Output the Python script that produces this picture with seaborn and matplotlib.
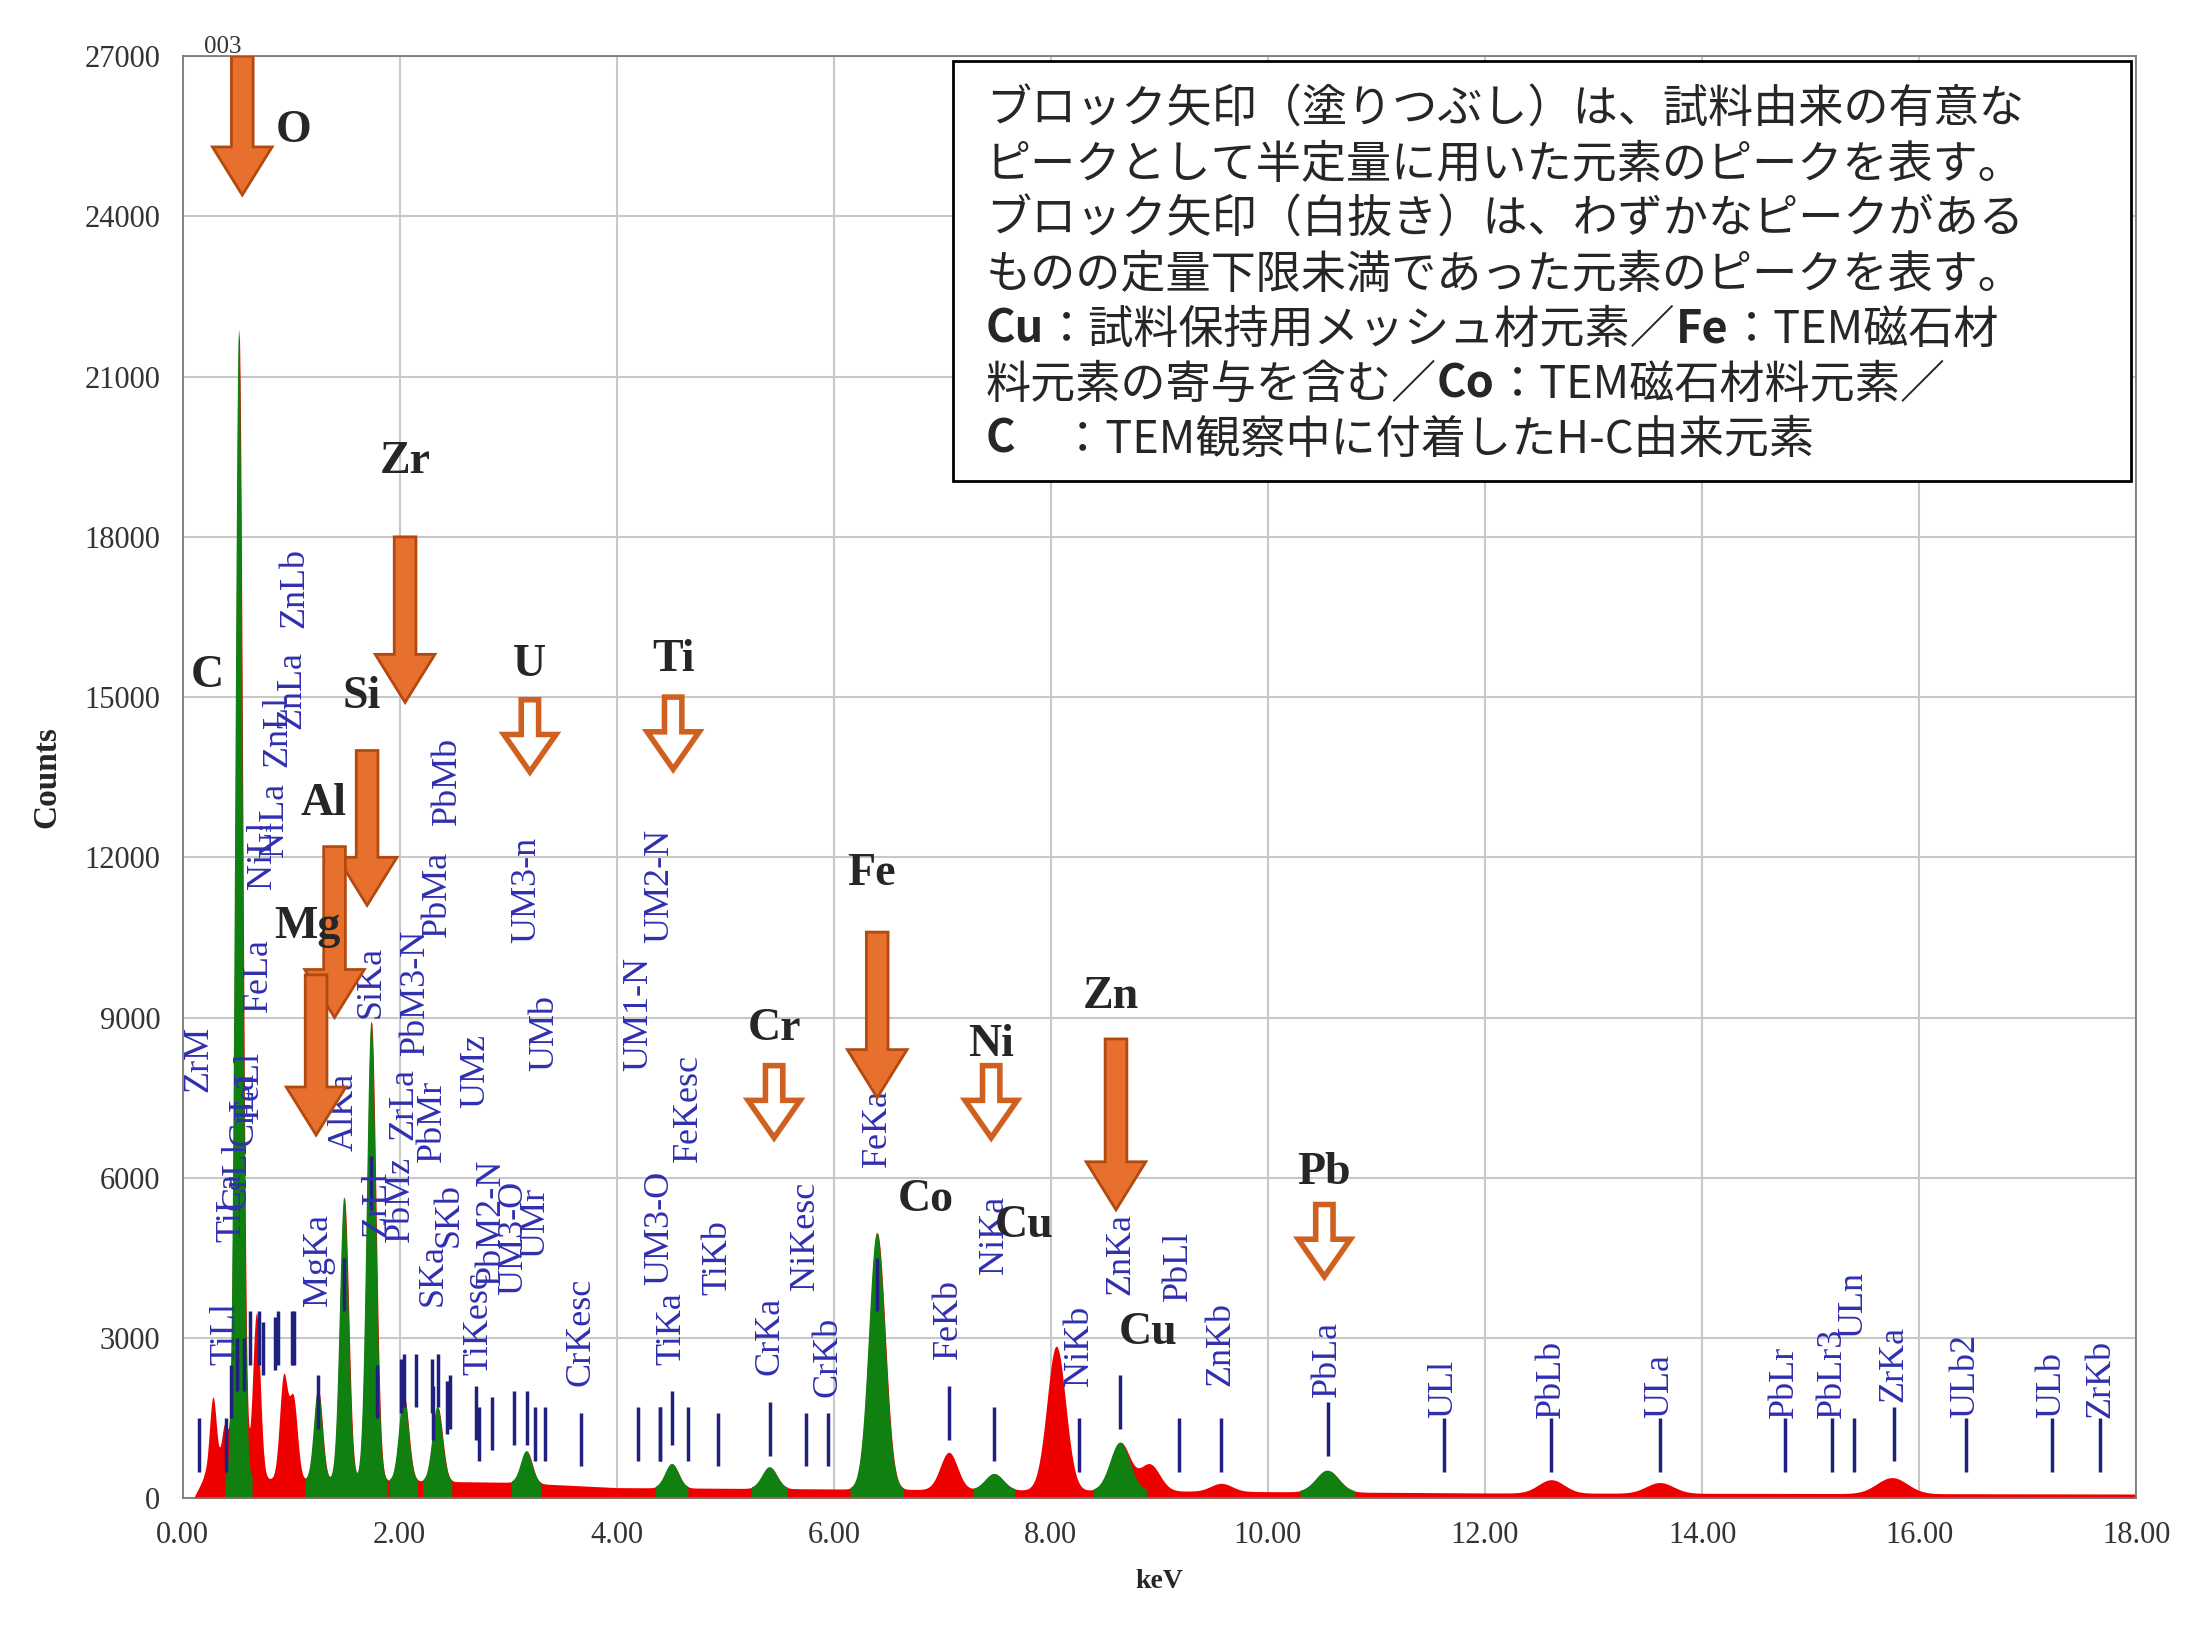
import numpy as np
import matplotlib
matplotlib.use("Agg")
import matplotlib.pyplot as plt
import seaborn as sns
from matplotlib.patches import FancyArrow, Rectangle

sns.set_theme(style="whitegrid")
plt.rcParams['font.family'] = ['Liberation Serif', 'DejaVu Serif']

# ---- data ----
red_peak_keV   = [0.28, 0.39, 0.68, 0.93, 1.02, 7.06, 8.05, 8.91, 9.57, 12.61, 13.61, 15.75]
red_peak_cnt   = [1500, 1000, 3100, 1900, 1500, 700, 2700, 500, 150, 250, 200, 300]
green_peak_keV = [0.52, 1.25, 1.49, 1.74, 2.04, 2.35, 3.17, 4.51, 5.41, 6.40, 7.48, 8.64, 10.55]
green_peak_cnt = [21500, 1700, 5300, 8600, 1600, 1400, 600, 450, 400, 4800, 300, 900, 400]
bg_keV = [0.1, 0.2, 1.0, 3.0, 4.0, 8.0, 12.0, 18.0]
bg_cnt = [0, 400, 350, 300, 200, 150, 100, 80]

marker_labels = ["ZrM","TiLl","TiLa","CrLl","CrLa","FeLl","FeLa","NiLl","NiLa","ZnLl","ZnLa","ZnLb","MgKa","AlKa","SiKa","ZrLl","ZrLa","PbMz","PbM3-N","PbMr","PbMa","PbMb","SKa","SKb","TiKesc","PbM2-N","UMz","UM3-O","UMr","UM3-n","UMb","CrKesc",
                 "UM3-O","UM1-N","UM2-N","TiKa","FeKesc","TiKb","CrKa","NiKesc","CrKb","FeKa","FeKb","NiKa","NiKb","ZnKa","PbLl","ZnKb","PbLa","ULl","PbLb","ULa","PbLr","PbLr3","ULn","ZrKa","ULb2","ULb","ZrKb"]
marker_keV    = [0.15,0.40,0.45,0.50,0.57,0.62,0.70,0.74,0.85,0.88,1.01,1.03,1.25,1.49,1.74,1.79,2.04,2.01,2.15,2.30,2.35,2.44,2.31,2.46,2.73,2.85,2.70,3.05,3.25,3.17,3.34,3.67,
                 4.40,4.20,4.40,4.51,4.66,4.93,5.41,5.74,5.95,6.40,7.06,7.48,8.26,8.64,9.18,9.57,10.55,11.62,12.61,13.61,14.76,15.20,15.40,15.77,16.43,17.22,17.67]
marker_top    = [1500,1500,2500,3000,3000,3500,3500,3300,3400,3500,3500,3500,2300,4500,6400,2500,2700,2600,2700,2600,2700,2200,2100,2300,1700,1900,2100,2000,1700,2000,1700,1600,
                 1700,1700,1700,2000,1700,1600,1800,1600,1600,4500,2100,1700,1500,2300,1500,1500,1800,1500,1500,1500,1500,1500,1500,1700,1500,1500,1500]
marker_text_y = [7600,2500,4800,5400,6600,7100,9100,11400,12000,13700,14400,16300,3600,6500,9000,4900,6700,4800,8300,6300,10500,12600,3600,4700,2300,4000,7300,3800,4500,10400,8000,2100,
                 4000,8000,10400,2500,6300,3800,2300,3900,1900,6200,2600,4200,2100,3800,3700,2100,1900,1500,1500,1500,1500,1500,3000,1800,1500,1500,1500]

filled_elems = ["O","Zr","Si","Al","Mg","Fe","Zn"]
filled_x     = [0.55, 2.05, 1.70, 1.40, 1.23, 6.40, 8.60]
filled_top   = [27000, 18000, 14000, 12200, 9800, 10600, 8600]
filled_bot   = [24400, 14900, 11100, 9000, 6800, 7500, 5400]
filled_lx    = [1.02, 2.05, 1.65, 1.30, 1.15, 6.35, 8.55]
filled_ly    = [25200, 19000, 14600, 12600, 10300, 11300, 9000]
hollow_elems = ["U","Ti","Cr","Ni","Pb"]
hollow_x     = [3.20, 4.52, 5.45, 7.45, 10.52]
hollow_top   = [14950, 15000, 8100, 8100, 5500]
hollow_bot   = [13600, 13650, 6750, 6750, 4150]
hollow_lx    = [3.2, 4.52, 5.45, 7.45, 10.52]
hollow_ly    = [15200, 15300, 8400, 8100, 5700]
other_labels = ["C", "Co", "Cu", "Cu"]
other_x      = [0.23, 6.85, 7.75, 8.90]
other_y      = [15000, 5200, 4700, 2700]

# ---- figure ----
fig = plt.figure(figsize=(22, 16.51), dpi=100)
ax = fig.add_axes([0.083, 0.0925, 0.888, 0.8735])
E = np.arange(0.1, 18.0, 0.005)
bg = np.interp(E, bg_keV, bg_cnt)
def peaks(cs, hs):
    y = np.zeros_like(E)
    for c, h in zip(cs, hs):
        s = 0.03 + 0.007 * c
        y += h * np.exp(-0.5 * ((E - c) / s) ** 2)
    return y
gp = peaks(green_peak_keV, green_peak_cnt)
total = bg + peaks(red_peak_keV, red_peak_cnt) + gp
ax.fill_between(E, 0, total, color="#ee0000", lw=0)
ax.fill_between(E, 0, bg + gp, where=gp > 20, color="#108010", lw=0)

ax.set_xlim(0, 18); ax.set_ylim(0, 27000)
ax.set_xticks(np.arange(0, 18.01, 2)); ax.set_xticklabels([f"{v:.2f}" for v in np.arange(0, 18.01, 2)])
ax.set_yticks(np.arange(0, 27001, 3000))
ax.tick_params(labelsize=22, colors="#333333", pad=10)
ax.grid(color="#c8c8c8", lw=1.5)
for s in ax.spines.values():
    s.set_color("#777777")
ax.set_xlabel("keV", fontsize=20, fontweight="bold", labelpad=14)
ax.set_ylabel("Counts", fontsize=24, fontweight="bold", labelpad=16)
ax.text(0.2, 27050, "003", fontsize=18, color="#333333")

for lab, x, t, ty in zip(marker_labels, marker_keV, marker_top, marker_text_y):
    ax.vlines(x, max(t - 1000, 300), t, color="#202080", lw=2.5)
    ax.text(x, ty, lab, rotation=90, ha="center", va="bottom", fontsize=26, color="#3030b0")

for lab, x, t, b, lx, ly in zip(filled_elems, filled_x, filled_top, filled_bot, filled_lx, filled_ly):
    ax.add_patch(FancyArrow(x, t, 0, b - t, width=0.2, head_width=0.55, head_length=900,
                            length_includes_head=True, fc="#e8702f", ec="#b24a10", lw=2, zorder=5))
    ax.text(lx, ly, lab, fontsize=33, fontweight="bold", ha="center", va="bottom", zorder=6)
for lab, x, t, b, lx, ly in zip(hollow_elems, hollow_x, hollow_top, hollow_bot, hollow_lx, hollow_ly):
    ax.add_patch(FancyArrow(x, t, 0, b - t, width=0.16, head_width=0.48, head_length=700,
                            length_includes_head=True, fc="white", ec="#d0601f", lw=4, zorder=5))
    ax.text(lx, ly, lab, fontsize=33, fontweight="bold", ha="center", va="bottom", zorder=6)
for lab, x, y in zip(other_labels, other_x, other_y):
    ax.text(x, y, lab, fontsize=33, fontweight="bold", ha="center", va="bottom", zorder=6)

# ---- note box ----
ax.add_patch(Rectangle((7.1, 19050), 10.85, 7850, fc="white", ec="black", lw=2, zorder=7))
jp = ['Noto Sans CJK JP', 'DejaVu Sans']
lines = [
    [("ブロック矢印（塗りつぶし）は、試料由来の有意な", "normal")],
    [("ピークとして半定量に用いた元素のピークを表す。", "normal")],
    [("ブロック矢印（白抜き）は、わずかなピークがある", "normal")],
    [("ものの定量下限未満であった元素のピークを表す。", "normal")],
    [("Cu", "bold"), ("：試料保持用メッシュ材元素／", "normal"), ("Fe", "bold"), ("：TEM磁石材", "normal")],
    [("料元素の寄与を含む／", "normal"), ("Co", "bold"), ("：TEM磁石材料元素／", "normal")],
    [("C", "bold"), ("　：TEM観察中に付着したH-C由来元素", "normal")],
]
y0 = 26000
for i, segs in enumerate(lines):
    y = y0 - i * 1030
    prev = None
    for txt, w in segs:
        if prev is None:
            prev = ax.text(7.4, y, txt, fontsize=32.5, fontweight=w, family=jp, va="center", zorder=8)
        else:
            prev = ax.annotate(txt, xy=(1, 0), xycoords=prev, va="bottom", fontsize=32.5,
                               fontweight=w, family=jp, zorder=8)

fig.savefig("out.png", dpi=100, facecolor="white")
